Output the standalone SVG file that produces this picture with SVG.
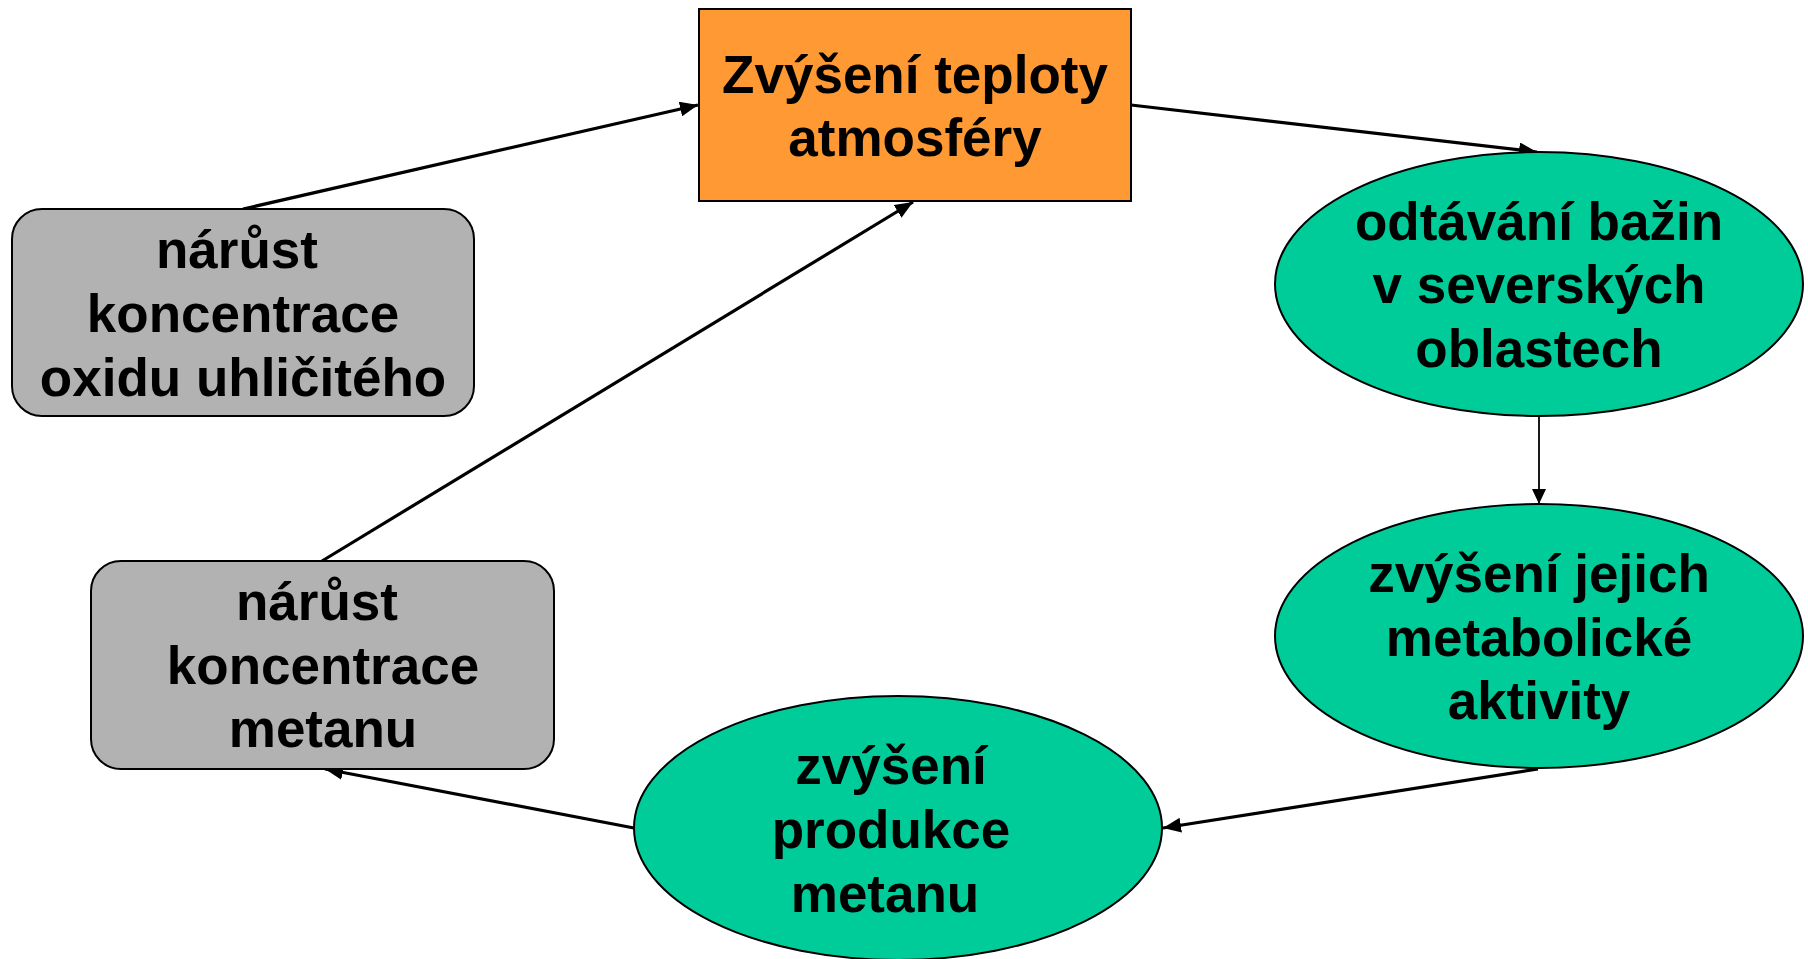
<svg xmlns="http://www.w3.org/2000/svg" width="1808" height="959" viewBox="0 0 1808 959">
<style>
.t{font-family:"Liberation Sans",Arial,sans-serif;font-weight:bold;font-size:53px;fill:#000;text-anchor:middle}
.box{stroke:#000;stroke-width:2}
.c{stroke:#000;stroke-width:3.2;fill:none}
.c2{stroke:#000;stroke-width:1.8;fill:none}
</style>
<defs>
<marker id="ah" markerUnits="userSpaceOnUse" markerWidth="19" markerHeight="15" refX="18" refY="7.5" orient="auto">
<path d="M0,0 L18,7.5 L0,15 z" fill="#000"/>
</marker>
<marker id="ah2" markerUnits="userSpaceOnUse" markerWidth="16" markerHeight="14" refX="15" refY="7" orient="auto">
<path d="M0,0 L15,7 L0,14 z" fill="#000"/>
</marker>
</defs>
<rect width="1808" height="959" fill="#fff"/>
<g id="connectors">
<line class="c" x1="243" y1="209" x2="698" y2="105" marker-end="url(#ah)"/>
<line class="c" x1="322" y1="561" x2="913" y2="202" marker-end="url(#ah)"/>
<line class="c" x1="1131" y1="105" x2="1537" y2="152" marker-end="url(#ah)"/>
<line class="c2" x1="1539" y1="416" x2="1539" y2="504" marker-end="url(#ah2)"/>
<line class="c" x1="1538" y1="769" x2="1163" y2="828" marker-end="url(#ah)"/>
<line class="c" x1="634" y1="828" x2="325" y2="769" marker-end="url(#ah)"/>
</g>
<g id="n-teplota">
<rect class="box" x="699" y="9" width="432" height="192" fill="#FF9933"/>
<text class="t" x="915" y="93">Zvýšení teploty</text>
<text class="t" x="915" y="156">atmosféry</text>
</g>
<g id="n-co2">
<rect class="box" x="12" y="209" width="462" height="207" rx="30" ry="30" fill="#B2B2B2"/>
<text class="t" x="237" y="268">nárůst</text>
<text class="t" x="243" y="332">koncentrace</text>
<text class="t" x="243" y="396">oxidu uhličitého</text>
</g>
<g id="n-metan">
<rect class="box" x="91" y="561" width="463" height="208" rx="30" ry="30" fill="#B2B2B2"/>
<text class="t" x="317" y="620">nárůst</text>
<text class="t" x="323" y="684">koncentrace</text>
<text class="t" x="323" y="747">metanu</text>
</g>
<g id="n-odtavani">
<ellipse class="box" cx="1539" cy="284" rx="264" ry="132" fill="#00CC99"/>
<text class="t" x="1539" y="240">odtávání bažin</text>
<text class="t" x="1539" y="303">v severských</text>
<text class="t" x="1539" y="367">oblastech</text>
</g>
<g id="n-aktivita">
<ellipse class="box" cx="1539" cy="636" rx="264" ry="132" fill="#00CC99"/>
<text class="t" x="1539" y="592">zvýšení jejich</text>
<text class="t" x="1539" y="656">metabolické</text>
<text class="t" x="1539" y="719">aktivity</text>
</g>
<g id="n-produkce">
<ellipse class="box" cx="898" cy="828" rx="264" ry="132" fill="#00CC99"/>
<text class="t" x="891" y="784">zvýšení</text>
<text class="t" x="891" y="848">produkce</text>
<text class="t" x="885" y="912">metanu</text>
</g>
</svg>
